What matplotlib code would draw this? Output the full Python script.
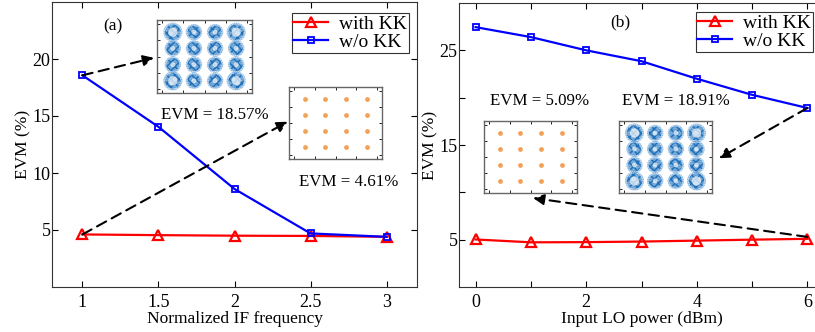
"""EVM vs IF frequency and LO power, with and without KK"""

import matplotlib
matplotlib.use("Agg")
import matplotlib.pyplot as plt

plt.rcParams['font.family'] = ['Liberation Serif', 'DejaVu Serif']
plt.rcParams['font.size'] = 12.5

# panel (a) data
if_freq = [1, 1.5, 2, 2.5, 3]
evm_kk_a = [4.61, 4.55, 4.5, 4.48, 4.4]
evm_nokk_a = [18.57, 14.05, 8.6, 4.7, 4.4]

# panel (b) data
lo_power = [0, 1, 2, 3, 4, 5, 6]
evm_kk_b = [5.02, 4.72, 4.74, 4.8, 4.9, 5.0, 5.09]
evm_nokk_b = [27.45, 26.4, 25.0, 23.85, 22.0, 20.3, 18.91]

# 16-QAM constellation levels
qam_levels = [-3, -1, 1, 3]

W, H = 815, 332
fig = plt.figure(figsize=(W / 100, H / 100), dpi=100)


def px(x0, y0, x1, y1):
    # pixel box -> figure fraction rect
    return [x0 / W, 1 - y1 / H, (x1 - x0) / W, (y1 - y0) / H]


def style_axis(ax):
    ax.tick_params(direction="in", length=4, width=0.8, top=True, right=True,
                   labelsize=13, pad=5)
    ax.tick_params(axis="y", pad=1)
    for s in ax.spines.values():
        s.set_linewidth(0.8)
        s.set_color("#333333")


def draw_const(rect, noisy):
    ia = fig.add_axes(rect)
    xs = [i for i in qam_levels for _ in qam_levels]
    ys = [q for _ in qam_levels for q in qam_levels]
    if noisy:
        outer = [(abs(x) == 3 and abs(y) == 3) for x, y in zip(xs, ys)]
        # speckled halo
        ia.scatter(xs, ys, s=[190 if o else 140 for o in outer], marker="o",
                   facecolor="none", edgecolor="#4a90cf", hatch="........", linewidth=0)
        # denser body
        ia.scatter(xs, ys, s=[120 if o else 85 for o in outer], marker="o",
                   facecolor="#2b7bc2", alpha=0.45, linewidth=0)
        ia.scatter(xs, ys, s=[120 if o else 85 for o in outer], marker="o",
                   facecolor="none", edgecolor="#1f6fb8", hatch="xxxx", linewidth=0)
        # lighter centres (ring-shaped clusters)
        ia.scatter(xs, ys, s=[45 if o else 12 for o in outer], marker="o",
                   facecolor="white", alpha=0.7, linewidth=0)
    else:
        ia.scatter(xs, ys, s=12, marker="o", color="#f5a05a", linewidth=0)
    ia.set_xlim(-4.5, 4.5)
    ia.set_ylim(-4.5, 4.5)
    ia.set_xticks([-4, -2, 0, 2, 4])
    ia.set_yticks([-4, -2, 0, 2, 4])
    ia.tick_params(direction="in", length=2, width=0.6, top=True, right=True,
                   labelbottom=False, labelleft=False)
    for s in ia.spines.values():
        s.set_linewidth(1.0)
        s.set_color("#666666")


arrow = dict(arrowstyle="-|>", linestyle=(0, (5, 3)), color="black", lw=1.5,
             mutation_scale=16, shrinkA=0, shrinkB=0)
leg_kw = dict(loc="upper right", fancybox=False, edgecolor="#333333", framealpha=1,
              borderaxespad=0, handlelength=1.8, borderpad=0.1, labelspacing=0.05,
              handletextpad=0.55, fontsize=14)

# ---------------- panel (a)
ax1 = fig.add_axes(px(52, 2, 417, 287))
ax1.plot(if_freq, evm_kk_a, color="red", lw=1.6, marker="^", ms=6.5, mfc="none", mew=1.6,
         label="with KK")
ax1.plot(if_freq, evm_nokk_a, color="blue", lw=1.6, marker="s", ms=4.5, mfc="none", mew=1.3,
         label="w/o KK")
ax1.set_xlim(0.8, 3.2)
ax1.set_ylim(0, 25)
ax1.set_xticks(if_freq)
ax1.set_xticklabels(["1", "1.5", "2", "2.5", "3"])
ax1.set_yticks([5, 10, 15, 20])
ax1.set_xlabel("Normalized IF frequency", labelpad=0)
ax1.set_ylabel("EVM (%)", labelpad=1)
style_axis(ax1)
ax1.text(1.2, 22.9, "(a)", ha="center", va="center")
ax1.text(1.87, 15.1, "EVM = 18.57%", ha="center", va="center", fontsize=12.2)
ax1.text(2.75, 9.2, "EVM = 4.61%", ha="center", va="center", fontsize=12.2)
ax1.annotate("", xy=(1.47, 20.1), xytext=(if_freq[0], evm_nokk_a[0]), arrowprops=arrow)
ax1.annotate("", xy=(2.35, 14.5), xytext=(if_freq[0], evm_kk_a[0]), arrowprops=arrow)
leg = ax1.legend(bbox_to_anchor=(1 - 8 / 365, 1 - 11 / 285), **leg_kw)
leg.get_frame().set_linewidth(0.8)

draw_const(px(157, 20, 252, 93), True)
draw_const(px(289, 87, 382, 159), False)

# ---------------- panel (b)
ax2 = fig.add_axes(px(459, 3, 824, 287))
ax2.plot(lo_power, evm_kk_b, color="red", lw=1.6, marker="^", ms=6.5, mfc="none", mew=1.6,
         label="with KK")
ax2.plot(lo_power, evm_nokk_b, color="blue", lw=1.6, marker="s", ms=4.5, mfc="none", mew=1.3,
         label="w/o KK")
ax2.set_xlim(-0.3, 6.3)
ax2.set_ylim(0, 30)
ax2.set_xticks(lo_power)
ax2.set_xticklabels([str(v) if v % 2 == 0 else "" for v in lo_power])
ax2.set_yticks([5, 10, 15, 20, 25])
ax2.set_yticklabels(["5", "", "15", "", "25"])
ax2.set_xlabel("Input LO power (dBm)", labelpad=0)
ax2.set_ylabel("EVM (%)", labelpad=1)
style_axis(ax2)
ax2.text(2.62, 28.0, "(b)", ha="center", va="center")
ax2.text(1.16, 19.6, "EVM = 5.09%", ha="center", va="center", fontsize=12.2)
ax2.text(3.62, 19.6, "EVM = 18.91%", ha="center", va="center", fontsize=12.2)
ax2.annotate("", xy=(4.4, 13.6), xytext=(lo_power[-1], evm_nokk_b[-1]), arrowprops=arrow)
ax2.annotate("", xy=(1.04, 9.4), xytext=(lo_power[-1], evm_kk_b[-1] + 0.2), arrowprops=arrow)
leg = ax2.legend(bbox_to_anchor=(1 - 11 / 365, 1 - 9 / 284), **leg_kw)
leg.get_frame().set_linewidth(0.8)

draw_const(px(484, 121, 577, 193), False)
draw_const(px(619, 121, 712, 193), True)

fig.savefig("out.png", dpi=100)
